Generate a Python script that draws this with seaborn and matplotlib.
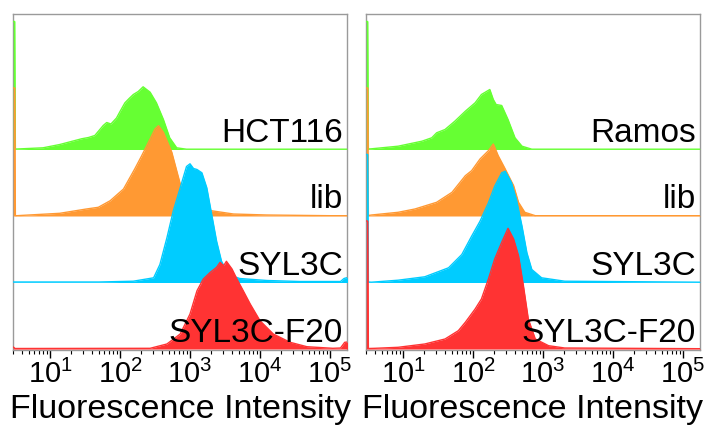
import numpy as np
import pandas as pd
import matplotlib
matplotlib.use("Agg")
import matplotlib.pyplot as plt
import matplotlib.transforms as mtransforms
from matplotlib.ticker import LogLocator, NullFormatter, FixedLocator, FixedFormatter
import seaborn as sns

sns.set_theme(style="white")
plt.rcParams['font.family'] = ['Liberation Sans', 'DejaVu Sans']
plt.rcParams['mathtext.fontset'] = 'custom'
plt.rcParams['mathtext.rm'] = 'Liberation Sans'
plt.rcParams['mathtext.it'] = 'Liberation Sans:italic'
plt.rcParams['mathtext.bf'] = 'Liberation Sans:bold'
plt.rcParams['text.color'] = 'black'
plt.rcParams['axes.labelcolor'] = 'black'
plt.rcParams['xtick.color'] = 'black'

# ---------------- data (log10 fluorescence, event counts in arbitrary units) ----------------
colors = ["#66FF33", "#FF9933", "#00CCFF", "#FF3333"]
labels_left = ["HCT116", "lib", "SYL3C", "SYL3C-F20"]
labels_right = ["Ramos", "lib", "SYL3C", "SYL3C-F20"]
tick_exponents = [1, 2, 3, 4, 5]
x_label = "Fluorescence Intensity"

# Left panel (HCT116 cells)
hct_log = [0.475, 0.495, 0.505, 0.53, 0.9, 1.14, 1.45, 1.55, 1.64, 1.7, 1.76, 1.81, 1.87, 1.95, 2.0,
           2.07, 2.13, 2.19, 2.26, 2.33, 2.38, 2.43, 2.52, 2.62, 2.71, 2.81, 2.95, 5.25]
hct_cnt = [128, 128, 0.5, 0.5, 1.7, 5, 10.7, 12, 14, 19, 24, 27, 25.5, 31.5, 38,
           46.7, 51, 55, 58, 62.7, 60, 57.3, 46.7, 30, 11.7, 1.7, 0.3, 0.3]

libL_log = [0.475, 0.495, 0.505, 0.52, 1.14, 1.52, 1.69, 1.86, 2.05, 2.21, 2.31, 2.43, 2.5, 2.55,
            2.62, 2.74, 2.83, 2.9, 3.0, 3.15, 3.33, 3.62, 4.1, 5.0, 5.25]
libL_cnt = [128, 128, 0.5, 0.3, 2.7, 7, 8.7, 15.3, 27, 47, 60.3, 77, 87, 90.3,
            83.7, 63.7, 40, 22, 12, 7, 5, 2, 1, 0.3, 0.3]

sylL_log = [0.475, 1.7, 2.19, 2.48, 2.57, 2.67, 2.76, 2.86, 2.95, 3.0, 3.05, 3.1, 3.17, 3.24,
            3.31, 3.38, 3.45, 3.55, 3.71, 4.1, 4.57, 5.15, 5.2, 5.25]
sylL_cnt = [0.5, 0.5, 1.3, 4.7, 18, 44.7, 71.3, 94.7, 116, 118.7, 114, 113, 109.7, 94.7,
            68, 41.3, 21.3, 8, 4, 2, 1, 1, 4, 5]

f20L_log = [0.475, 0.5, 2.43, 2.67, 2.86, 3.0, 3.1, 3.19, 3.29, 3.38, 3.43, 3.48, 3.52, 3.6,
            3.67, 3.76, 3.86, 4.0, 4.19, 4.43, 4.67, 5.04, 5.15, 5.21, 5.25]
f20L_cnt = [2, 0.5, 0.7, 5, 15, 35, 58.3, 70, 76.7, 81.7, 86.7, 83.3, 87.7, 80,
            70, 58.3, 45, 28.3, 15, 6.7, 2.3, 0.7, 1, 6.7, 7]

# Right panel (Ramos cells)
ramos_log = [0.475, 0.495, 0.505, 0.55, 0.93, 1.27, 1.41, 1.48, 1.6, 1.74, 1.89, 2.03, 2.12, 2.24,
             2.29, 2.33, 2.41, 2.5, 2.6, 2.7, 2.84, 5.25]
ramos_cnt = [128, 128, 0.5, 0.7, 3.3, 8.3, 11.7, 16.7, 20, 28.3, 38.3, 46.7, 55, 60,
             50, 45, 44, 30, 11.7, 3.3, 0.3, 0.3]

libR_log = [0.475, 0.495, 0.505, 0.55, 0.93, 1.17, 1.48, 1.7, 1.89, 1.98, 2.1, 2.22, 2.29, 2.36,
            2.46, 2.58, 2.65, 2.74, 2.89, 5.25]
libR_cnt = [128, 128, 0.5, 1, 3.7, 7, 13.7, 23.7, 40.3, 45.3, 57, 65.3, 72, 60.3,
            47, 30.3, 13.7, 3.7, 0.3, 0.3]

sylR_log = [0.475, 0.495, 0.505, 0.55, 0.93, 1.31, 1.65, 1.84, 1.98, 2.1, 2.22, 2.31, 2.41, 2.46,
            2.55, 2.62, 2.7, 2.77, 2.84, 2.98, 3.31, 5.25]
sylR_cnt = [128, 128, 0.5, 0.3, 2.3, 5.7, 14.7, 28, 46.3, 61.3, 79.7, 96.3, 109.7, 111.3,
            99.7, 83, 56.3, 29.7, 13, 4.7, 1.3, 0.3]

f20R_log = [0.475, 0.495, 0.505, 0.6, 0.93, 1.31, 1.6, 1.79, 1.89, 2.03, 2.12, 2.22, 2.31, 2.41,
            2.5, 2.58, 2.65, 2.72, 2.79, 2.89, 3.08, 3.31, 5.25]
f20R_cnt = [128, 128, 0.5, 0.7, 1.7, 5, 10, 18.3, 26.7, 40, 50, 70, 90, 106.7,
            120.7, 110, 93.3, 63.3, 30, 10, 3.3, 1, 0.3]

left_series = [(hct_log, hct_cnt), (libL_log, libL_cnt), (sylL_log, sylL_cnt), (f20L_log, f20L_cnt)]
right_series = [(ramos_log, ramos_cnt), (libR_log, libR_cnt), (sylR_log, sylR_cnt), (f20R_log, f20R_cnt)]

# ---------------- layout ----------------
W, H = 709, 426
fig = plt.figure(figsize=(W / 100, H / 100), dpi=100)
row_step = 66.5
n_rows = 4
ax_left = fig.add_axes([13 / W, (H - 350) / H, 334 / W, 336 / H])
ax_right = fig.add_axes([366 / W, (H - 350) / H, 334 / W, 336 / H])


def draw_panel(ax, series, labels):
    for i, ((lg, cnt), lab, col) in enumerate(zip(series, labels, colors)):
        offset = (n_rows - 1 - i) * row_step
        df = pd.DataFrame({"fl": np.power(10.0, lg), "y": np.asarray(cnt) + offset})
        ax.fill_between(df["fl"], offset, df["y"], color=col, lw=0, zorder=3 + i)
        sns.lineplot(data=df, x="fl", y="y", ax=ax, color=col, lw=1.0,
                     estimator=None, sort=False, zorder=3 + i)
        trans = mtransforms.blended_transform_factory(ax.transAxes, ax.transData)
        ax.text(0.988, offset + 7.5, lab, transform=trans, ha="right", va="baseline",
                fontsize=24, color="black", zorder=10)
    ax.set_xscale("log")
    ax.set_xlim(10 ** 0.471, 10 ** 5.243)
    ax.set_ylim(-1.0, 335.0)
    ax.set_yticks([])
    ax.set_ylabel("")
    ax.xaxis.set_major_locator(FixedLocator([10.0 ** e for e in tick_exponents]))
    ax.xaxis.set_major_formatter(FixedFormatter([r"$\mathregular{10^{%d}}$" % e for e in tick_exponents]))
    ax.xaxis.set_minor_locator(LogLocator(base=10, subs=np.arange(2, 10), numticks=20))
    ax.xaxis.set_minor_formatter(NullFormatter())
    ax.tick_params(axis="x", which="major", direction="out", length=6, width=1.0,
                   color="black", labelcolor="black", labelsize=21, pad=1, bottom=True)
    ax.tick_params(axis="x", which="minor", direction="out", length=3, width=0.8,
                   color="black", bottom=True)
    for s in ax.spines.values():
        s.set_color("#9a9a9a")
        s.set_linewidth(1.0)
    ax.set_xlabel(x_label, fontsize=24.5, labelpad=4, color="black")


draw_panel(ax_left, left_series, labels_left)
draw_panel(ax_right, right_series, labels_right)

fig.savefig("out.png", dpi=100)
